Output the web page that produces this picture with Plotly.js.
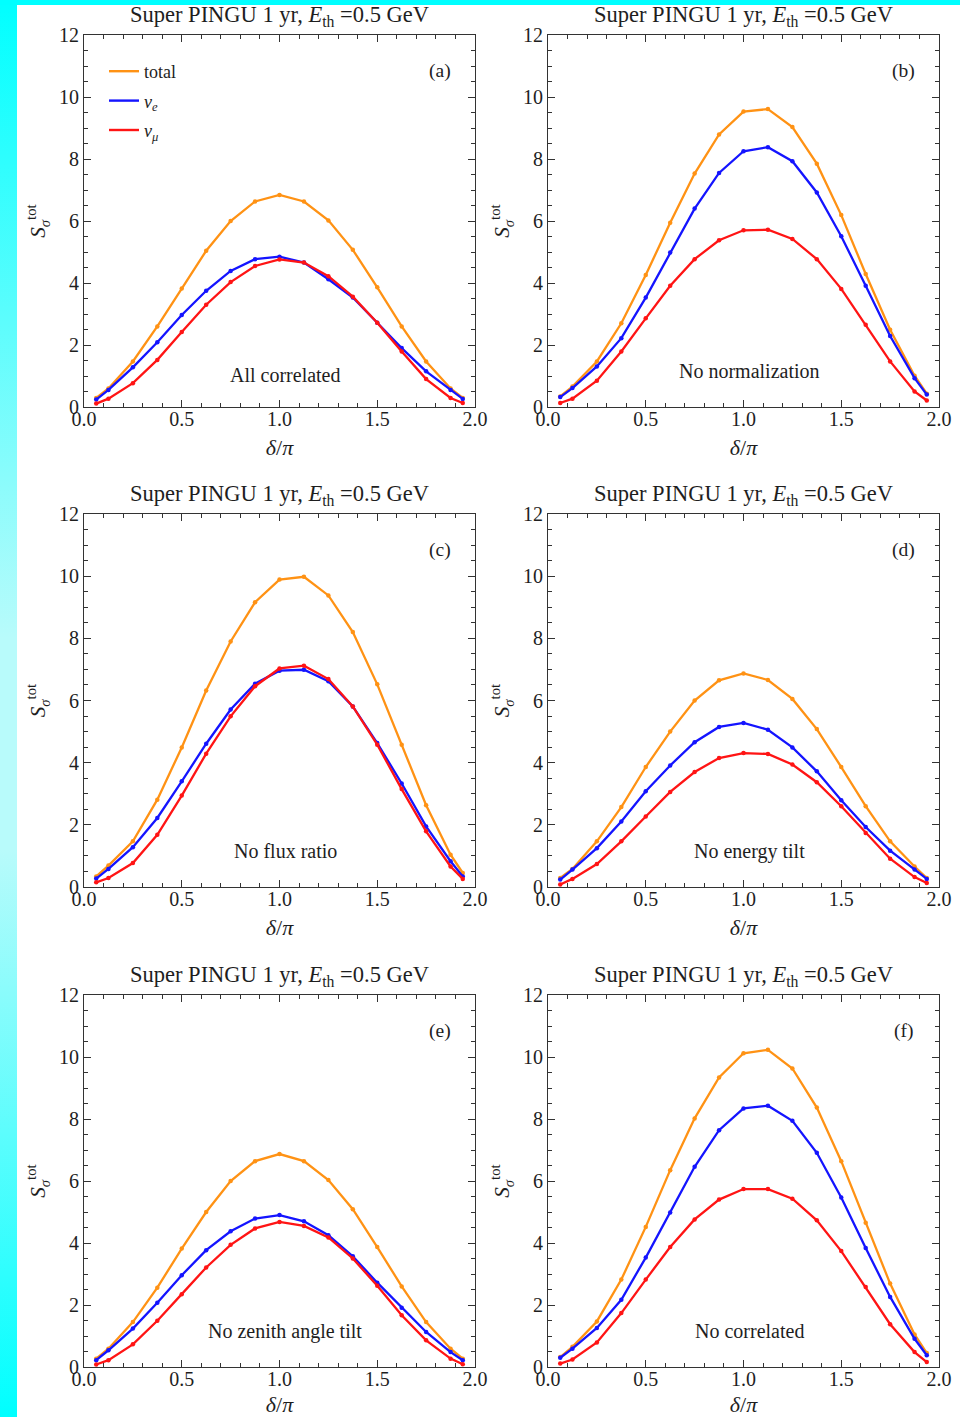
<!DOCTYPE html>
<html>
<head>
<meta charset="utf-8">
<script src="https://cdn.plot.ly/plotly-3.0.1.min.js"></script>
<style>
  html, body { margin: 0; padding: 0; }
  body {
    width: 960px; height: 1417px;
    background:
      linear-gradient(to bottom, #00ffff 0px, #00ffff 5px, transparent 5px) no-repeat,
      linear-gradient(to bottom, #00ffff 0%, #b8fbfb 45%, #b8fbfb 60%, #00ffff 100%) 0 0 / 17px 100% no-repeat,
      #ffffff;
  }
  #plot { width: 960px; height: 1417px; }
</style>
</head>
<body>
<div id="plot"></div>
<script>
// ---- data ----
const deltaOverPi = [0.0625,0.125,0.25,0.375,0.5,0.625,0.75,0.875,1.0,1.125,1.25,1.375,1.5,1.625,1.75,1.875,1.9375];

const panelLetters = ["(a)","(b)","(c)","(d)","(e)","(f)"];
const panelLabels = ["All correlated","No normalization","No flux ratio","No energy tilt","No zenith angle tilt","No correlated"];
const seriesNames = ["total","<i>ν<sub>e</sub></i>","<i>ν<sub>μ</sub></i>"];

const totalA = [0.29,0.60,1.47,2.60,3.82,5.04,6.00,6.63,6.84,6.63,6.02,5.07,3.86,2.60,1.47,0.60,0.29];
const nueA   = [0.24,0.55,1.28,2.09,2.97,3.75,4.39,4.77,4.85,4.66,4.12,3.53,2.72,1.90,1.15,0.55,0.26];
const numuA  = [0.11,0.27,0.77,1.52,2.42,3.30,4.03,4.55,4.76,4.66,4.22,3.56,2.72,1.79,0.90,0.29,0.13];

const totalB = [0.34,0.66,1.47,2.70,4.26,5.94,7.53,8.79,9.53,9.61,9.03,7.85,6.19,4.29,2.49,1.01,0.43];
const nueB   = [0.32,0.61,1.31,2.22,3.53,4.98,6.40,7.55,8.25,8.38,7.93,6.92,5.51,3.91,2.29,0.93,0.40];
const numuB  = [0.13,0.27,0.85,1.79,2.86,3.91,4.77,5.38,5.70,5.72,5.42,4.77,3.81,2.65,1.47,0.50,0.21];

const totalC = [0.34,0.69,1.47,2.81,4.49,6.32,7.90,9.16,9.89,9.98,9.38,8.20,6.52,4.58,2.63,1.04,0.45];
const nueC   = [0.27,0.58,1.28,2.22,3.40,4.61,5.71,6.54,6.96,6.99,6.62,5.81,4.63,3.33,1.95,0.83,0.34];
const numuC  = [0.15,0.29,0.77,1.68,2.94,4.29,5.49,6.46,7.03,7.12,6.69,5.81,4.58,3.15,1.79,0.66,0.26];

const totalD = [0.29,0.58,1.47,2.57,3.86,5.00,6.00,6.65,6.87,6.66,6.05,5.08,3.86,2.60,1.47,0.66,0.29];
const nueD   = [0.24,0.56,1.25,2.11,3.08,3.91,4.66,5.15,5.28,5.06,4.49,3.72,2.79,1.93,1.17,0.56,0.26];
const numuD  = [0.08,0.26,0.74,1.47,2.27,3.06,3.70,4.15,4.31,4.28,3.94,3.37,2.60,1.74,0.91,0.32,0.13];

const totalE = [0.27,0.59,1.45,2.56,3.82,5.00,6.00,6.64,6.87,6.64,6.03,5.09,3.87,2.60,1.45,0.59,0.27];
const nueE   = [0.22,0.54,1.24,2.07,2.96,3.77,4.38,4.79,4.90,4.70,4.25,3.57,2.72,1.91,1.13,0.48,0.22];
const numuE  = [0.08,0.22,0.73,1.49,2.35,3.21,3.94,4.47,4.68,4.55,4.18,3.50,2.62,1.67,0.86,0.27,0.09];

const totalF = [0.32,0.65,1.47,2.82,4.52,6.35,8.02,9.34,10.12,10.23,9.63,8.37,6.64,4.65,2.69,1.05,0.45];
const nueF   = [0.30,0.59,1.26,2.17,3.53,4.98,6.46,7.64,8.34,8.43,7.94,6.91,5.47,3.84,2.26,0.91,0.38];
const numuF  = [0.11,0.24,0.79,1.74,2.82,3.87,4.76,5.40,5.74,5.74,5.43,4.73,3.74,2.58,1.38,0.48,0.16];

const yTickVals = [0,2,4,6,8,10,12];
const xTickVals = [0,0.5,1,1.5,2];
const xTickText = ["0.0","0.5","1.0","1.5","2.0"];

// ---- build ----
const panels = [
  [totalA, nueA, numuA], [totalB, nueB, numuB],
  [totalC, nueC, numuC], [totalD, nueD, numuD],
  [totalE, nueE, numuE], [totalF, nueF, numuF]
];
const colors = ["#ff9214", "#1414ff", "#ff1414"];
const W = 960, H = 1417;
const colPx = [[84,475],[548,939]];
const rowPx = [[35,407],[514,887],[995,1367]];
const FONT = "Liberation Serif, Times New Roman, serif";
const INK = "#1e1e1e";

const traces = [];
const layout = {
  width: W, height: H,
  margin: {l:0, r:0, t:0, b:0},
  paper_bgcolor: "rgba(0,0,0,0)",
  plot_bgcolor: "#ffffff",
  font: {family: FONT, size: 19, color: INK},
  showlegend: true,
  legend: {
    x: 104/W, y: 1 - 53/H, xanchor: "left", yanchor: "top",
    bgcolor: "rgba(0,0,0,0)", font: {family: FONT, size: 18, color: INK},
    tracegroupgap: 3, traceorder: "grouped", itemwidth: 30
  },
  annotations: [],
  hovermode: false
};

// legend entries (line only, as in the reference)
seriesNames.forEach((nm, k) => {
  traces.push({
    type: "scatter", mode: "lines", x: [null], y: [null],
    name: nm, legendgroup: "g"+k, showlegend: true,
    line: {color: colors[k], width: 2.4}, xaxis: "x", yaxis: "y"
  });
});

panels.forEach((series, i) => {
  const r = Math.floor(i/2), c = i%2;
  const ax = i === 0 ? "" : String(i+1);
  const xd = [colPx[c][0]/W, colPx[c][1]/W];
  const yd = [1 - rowPx[r][1]/H, 1 - rowPx[r][0]/H];
  series.forEach((ys, k) => {
    traces.push({
      type: "scatter", mode: "lines+markers",
      x: deltaOverPi, y: ys,
      xaxis: "x"+ax, yaxis: "y"+ax,
      name: seriesNames[k],
      legendgroup: "g"+k,
      showlegend: false,
      line: {color: colors[k], width: 2.3},
      marker: {color: colors[k], size: 4.5}
    });
  });
  const common = {
    showline: true, linecolor: "#333", linewidth: 1, mirror: "allticks",
    ticks: "inside", ticklen: 7, tickcolor: "#333", tickwidth: 1,
    showgrid: false, zeroline: false, fixedrange: true,
    tickfont: {family: FONT, size: 20, color: INK}
  };
  layout["xaxis"+ax] = Object.assign({}, common, {
    domain: xd, range: [0,2], anchor: "y"+ax,
    tickvals: xTickVals, ticktext: xTickText,
    ticklabelstandoff: -6,
    minor: {ticks: "inside", dtick: 0.1, ticklen: 4, tickcolor:"#333", showgrid:false},
    title: {text: "<i>δ</i>/<i>π</i>", font: {family: FONT, size: 22, color: INK}, standoff: 10}
  });
  layout["yaxis"+ax] = Object.assign({}, common, {
    domain: yd, range: [0,12], anchor: "x"+ax,
    tickvals: yTickVals,
    minor: {ticks: "inside", dtick: 0.5, ticklen: 4, tickcolor:"#333", showgrid:false},
    title: {text: "<i>S</i><sub><i>σ</i></sub><sup>tot</sup>", font: {family: FONT, size: 21, color: INK}, standoff: 7}
  });
  const xr = "x"+ax, yr = "y"+ax;
  layout.annotations.push({
    xref: "paper", yref: "paper",
    x: (xd[0]+xd[1])/2, y: yd[1], xanchor: "center", yanchor: "bottom", yshift: 3,
    text: "Super PINGU 1 yr, <i>E</i><sub>th</sub> =0.5 GeV", showarrow: false,
    font: {family: FONT, size: 22.5, color: INK}
  });
  layout.annotations.push({
    xref: xr, yref: yr, x: 1.82, y: 10.85, text: panelLetters[i], showarrow: false,
    font: {family: FONT, size: 19.5, color: INK}
  });
  layout.annotations.push({
    xref: xr, yref: yr, x: 1.03, y: (i===0 ? 1.03 : 1.15), text: panelLabels[i], showarrow: false,
    font: {family: FONT, size: 20, color: INK}
  });
});

Plotly.newPlot("plot", traces, layout, {displayModeBar: false, staticPlot: true});
</script>
</body>
</html>
